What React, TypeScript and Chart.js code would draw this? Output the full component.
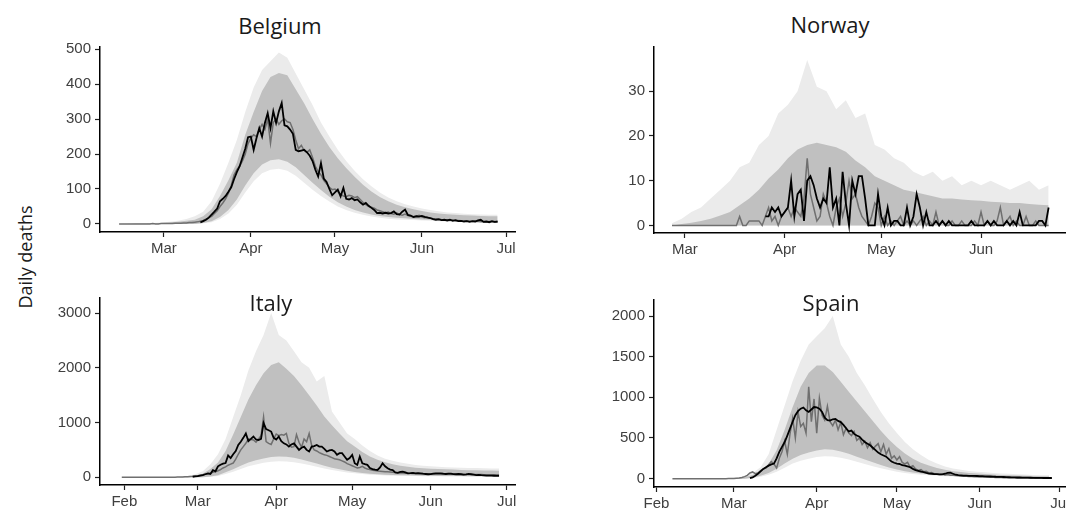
import React, { useEffect, useRef } from "react";
import { Chart, registerables } from "chart.js";
Chart.register(...registerables);

// ---- axis tick definitions (day of year 2020) ----
const MONTH_DAYS = [31, 60, 91, 121, 152, 182];
const MONTH_LABELS = ["Feb", "Mar", "Apr", "May", "Jun", "Jul"];
const BAND_STEP = 3;

// ---- Belgium ----
const belgiumSimStart = 44;
const belgiumSim = [
  0,0,0,0,0,0,0,0,0,0,0,0,1,0,0,1,1,1,1,
  1,2,2,2,3,3,4,
  4,5,6,8,10,14,18,22,30,38,
  50,60,72,88,110,140,155,165,180,200,
  230,245,255,250,270,285,270,300,231,290,
  300,285,295,300,292,290,270,240,215,225,
  210,205,212,190,165,150,140,125,115,105,
  98,100,92,85,80,78,82,80,75,78,
  70,62,55,50,48,45,40,38,35,32,
  34,30,28,32,27,25,28,24,22,20,
  22,25,20,18,20,16,15,14,15,12,
  11,12,10,11,9,10,9,8,9,8,
  7,8,7,6,7,6,7,6,5,6,
];
const belgiumObsStart = 73;
const belgiumObs = [
  4,8,12,18,27,35,44,
  65,72,80,92,105,128,148,165,190,215,
  248,250,212,245,274,250,289,317,274,322,
  289,322,346,282,279,270,258,212,208,210,
  212,205,195,180,155,136,174,130,120,100,
  82,90,98,79,103,72,70,74,68,70,
  62,55,60,52,46,40,31,32,30,32,
  30,31,36,28,27,35,41,26,24,20,
  22,21,23,20,18,17,14,12,13,11,
  12,10,12,9,11,8,9,7,8,6,
  8,7,10,12,6,7,5,8,6,7,
];
const belgiumBandStart = 44;
const belgiumOuterHigh = [
  0,1,1,2,3,4,6,9,14,22,
  35,65,115,175,240,320,390,440,465,490,
  475,430,385,340,290,250,212,180,152,128,
  108,90,76,65,56,50,44,40,36,33,
  31,29,28,27,26,26,
];
const belgiumInnerHigh = [
  0,0,1,1,2,3,4,6,9,12,
  22,42,80,125,175,255,320,380,420,432,
  425,385,345,300,258,220,188,160,135,112,
  93,77,65,55,48,42,37,33,30,28,
  26,25,24,23,22,22,
];
const belgiumInnerLow = [
  0,0,0,0,0,0,0,0,0,0,
  3,8,20,40,70,110,145,170,182,185,
  178,162,140,118,97,78,62,50,40,33,
  27,23,20,18,16,14,13,12,11,10,
  9,9,8,8,7,7,
];
const belgiumOuterLow = [
  0,0,0,0,0,0,0,0,0,0,
  2,5,14,30,55,90,122,145,155,158,
  152,138,118,98,80,64,50,40,32,26,
  21,18,15,13,12,11,10,9,8,7,
  7,6,6,5,5,5,
];

// ---- Norway ----
const norwaySimStart = 56;
const norwaySim = [
  0,0,0,0,
  0,0,0,0,0,0,0,0,0,0,
  0,0,0,0,0,0,0,2,0,0,
  1,1,1,1,0,2,4,1,2,0,
  2,3,4,2,4,3,2,6,15,7,
  4,1,2,7,5,2,0,4,6,2,
  5,10,6,7,4,2,1,0,2,5,
  4,0,2,0,1,0,1,2,0,1,
  0,1,0,1,2,0,1,0,3,0,
  1,0,0,1,0,0,1,0,0,0,
  1,0,3,0,1,0,0,1,4,0,
  1,2,0,1,0,0,2,0,0,1,
  0,0,0,0,
];
const norwayObsStart = 85;
const norwayObs = [
  2,2,4,3,4,
  2,3,4,10,2,7,8,1,10,11,
  9,6,4,6,5,13,4,6,0,12,
  5,0,10,7,11,11,6,0,0,0,
  7,2,0,4,0,1,1,0,0,4,
  0,2,7,4,0,3,0,0,1,0,
  1,0,1,0,0,0,0,0,0,1,
  0,0,0,0,1,0,1,0,0,0,
  1,0,1,0,3,0,0,0,0,0,
  1,1,0,4,
];
const norwayBandStart = 56;
const norwayOuterHigh = [
  0.5,1.5,3,4,6,8,10,13,14,18,
  20,25,27,30,37,31,30,26,28,24,
  25,18,17,15,14,12,11,12,10,11,
  9,10,9,10,9,8,9,10,8,9,
];
const norwayInnerHigh = [
  0,0.3,0.6,1,1.5,2.2,3,4.5,6,8,
  10.5,12.5,15,17,18,18.5,18,17.5,16.5,14.5,
  13,11,10,9,8,7.5,7,6.5,6,6,
  5.8,5.6,5.5,5.3,5.2,5,5,4.8,4.6,4.5,
];
const norwayInnerLow = [
  0,0,0,0,0,0,0,0,0,0,
  0,0,0,0,0,0,0,0,0,0,
  0,0,0,0,0,0,0,0,0,0,
  0,0,0,0,0,0,0,0,0,0,
];
const norwayOuterLow = [
  0,0,0,0,0,0,0,0,0,0,
  0,0,0,0,0,0,0,0,0,0,
  0,0,0,0,0,0,0,0,0,0,
  0,0,0,0,0,0,0,0,0,0,
];

// ---- Italy ----
const italySimStart = 30;
const italySim = [
  0,0,0,0,0,0,0,0,0,0,
  0,0,0,0,0,0,0,0,0,0,
  1,2,3,4,6,8,10,14,18,24,
  30,38,46,55,65,75,90,100,120,140,
  170,190,220,240,260,330,420,500,560,620,
  700,690,680,640,700,760,1100,650,620,600,
  700,790,760,780,770,800,620,550,560,780,
  640,550,700,650,800,580,500,480,450,430,
  410,400,380,360,340,330,320,300,280,250,
  230,210,190,170,180,200,170,150,140,130,
  125,115,110,105,100,100,95,90,85,82,
  80,78,75,73,72,70,70,68,66,65,
  63,62,60,60,59,58,58,57,57,56,
  56,55,55,54,54,53,53,52,52,51,
  50,50,49,48,48,47,46,46,45,45,
];
const italyObsStart = 58;
const italyObs = [
  10,15,
  20,30,40,55,70,60,130,110,200,230,
  250,260,400,350,420,480,590,650,720,800,
  660,700,745,690,680,700,990,880,860,835,
  720,690,745,660,620,600,560,600,620,560,
  500,540,560,500,470,560,570,590,560,560,
  520,470,490,500,470,410,440,440,380,320,
  350,410,256,226,380,256,240,226,170,150,
  140,134,180,256,200,165,140,130,90,80,
  100,104,90,73,75,80,70,75,73,65,
  60,55,58,65,73,70,73,65,60,67,
  65,58,55,60,55,48,52,61,55,48,
  40,43,38,35,30,30,32,28,25,25,
];
const italyBandStart = 29;
const italyOuterHigh = [
  0,0,0,0,1,1,2,4,10,25,
  55,110,240,420,700,1100,1500,1950,2300,2600,
  3000,2600,2500,2300,2100,2000,1750,1850,1200,1000,
  800,700,580,480,400,340,300,270,245,225,
  210,200,190,185,180,175,170,168,165,162,
  160,
];
const italyInnerHigh = [
  0,0,0,0,0,0,1,2,5,12,
  30,65,150,270,480,780,1100,1420,1680,1900,
  2050,2100,1980,1850,1680,1500,1310,1110,950,800,
  660,560,460,380,320,275,240,210,190,175,
  165,155,150,145,140,135,130,128,125,122,
  120,
];
const italyInnerLow = [
  0,0,0,0,0,0,0,0,0,0,
  0,0,15,35,90,145,210,270,310,345,
  370,380,375,355,325,290,250,210,175,145,
  118,98,80,66,56,48,43,39,35,32,
  29,27,25,24,23,22,21,21,20,20,
  20,
];
const italyOuterLow = [
  0,0,0,0,0,0,0,0,0,0,
  0,0,8,22,60,100,150,200,235,265,
  285,295,290,275,250,222,190,160,132,108,
  88,72,58,48,40,34,30,27,24,22,
  20,18,17,16,15,15,14,14,13,13,
  13,
];

// ---- Spain ----
const spainSimStart = 37;
const spainSim = [
  0,0,0,
  0,0,0,0,0,0,0,0,0,0,
  0,0,0,0,0,0,0,0,1,1,
  2,5,8,15,25,40,70,82,60,70,
  100,120,130,170,210,180,130,250,330,460,
  300,550,740,500,820,640,680,560,1130,700,
  980,560,990,780,720,890,700,650,720,600,
  690,540,620,560,530,580,470,500,420,460,
  380,440,360,400,430,330,420,300,370,250,
  280,230,270,200,180,200,140,160,120,100,
  110,85,90,70,75,60,55,50,55,45,
  50,42,40,38,35,33,30,28,27,25,
  24,22,21,20,19,18,17,16,15,14,
  13,12,12,11,10,10,9,9,8,8,
  7,7,7,6,6,6,5,5,5,5,
];
const spainObsStart = 66;
const spainObs = [
  5,15,35,60,
  90,120,140,160,175,185,250,330,390,450,
  530,615,700,780,830,860,875,840,820,850,
  880,875,860,820,750,720,715,730,735,710,
  695,660,620,580,590,550,530,515,480,450,
  430,410,380,350,320,300,285,270,240,210,
  195,185,180,165,160,150,140,120,105,95,
  85,80,70,62,60,55,55,52,53,60,
  70,72,60,48,42,40,38,37,35,34,
  33,32,30,30,28,27,26,25,23,22,
  21,20,18,17,16,15,14,14,13,12,
  12,11,10,10,9,9,8,8,8,8,
];
const spainBandStart = 37;
const spainOuterHigh = [
  0,0,0,0,1,2,4,8,15,30,
  70,140,300,600,900,1200,1450,1650,1750,1850,
  2000,1650,1500,1300,1150,980,820,680,560,450,
  360,290,230,185,150,125,108,95,85,77,
  70,64,59,54,50,46,43,40,
];
const spainInnerHigh = [
  0,0,0,0,1,1,2,4,8,16,
  45,85,180,350,600,880,1130,1300,1390,1390,
  1310,1190,1070,950,830,710,590,480,390,310,
  245,195,160,130,108,92,80,70,62,56,
  50,46,42,38,35,32,29,27,
];
const spainInnerLow = [
  0,0,0,0,0,0,0,0,0,0,
  10,35,70,120,185,245,290,320,345,360,
  355,335,305,270,235,200,168,138,112,92,
  76,63,53,45,39,34,30,26,22,19,
  17,15,13,12,11,10,9,8,
];
const spainOuterLow = [
  0,0,0,0,0,0,0,0,0,0,
  5,22,48,85,135,185,220,245,265,275,
  272,258,235,208,180,153,128,105,85,70,
  58,48,40,34,29,25,22,19,16,14,
  12,11,10,9,8,7,6,6,
];

type Panel = {
  name: string;
  titleX: number; titleY: number;
  box: { left: number; top: number; width: number; height: number };
  area: { l: number; t: number; r: number; b: number };
  xMin: number; xMax: number; yMin: number; yMax: number;
  xTicks: number[]; yTicks: number[];
  simStart: number; sim: number[];
  obsStart: number; obs: number[];
  bandStart: number;
  outerHigh: number[]; innerHigh: number[]; innerLow: number[]; outerLow: number[];
};

const panels: Panel[] = [
  {
    name: "Belgium", titleX: 280, titleY: 25,
    box: { left: 40, top: 40, width: 500, height: 228 },
    area: { l: 100, t: 47, r: 515, b: 232 },
    xMin: 37.2, xMax: 185.2, yMin: -23, yMax: 506,
    xTicks: [60, 91, 121, 152, 182], yTicks: [0, 100, 200, 300, 400, 500],
    simStart: belgiumSimStart, sim: belgiumSim, obsStart: belgiumObsStart, obs: belgiumObs,
    bandStart: belgiumBandStart, outerHigh: belgiumOuterHigh, innerHigh: belgiumInnerHigh,
    innerLow: belgiumInnerLow, outerLow: belgiumOuterLow,
  },
  {
    name: "Norway", titleX: 830, titleY: 24,
    box: { left: 600, top: 40, width: 466, height: 228 },
    area: { l: 654, t: 47, r: 1066, b: 233 },
    xMin: 50.4, xMax: 178.4, yMin: -1.7, yMax: 39.9,
    xTicks: [60, 91, 121, 152], yTicks: [0, 10, 20, 30],
    simStart: norwaySimStart, sim: norwaySim, obsStart: norwayObsStart, obs: norwayObs,
    bandStart: norwayBandStart, outerHigh: norwayOuterHigh, innerHigh: norwayInnerHigh,
    innerLow: norwayInnerLow, outerLow: norwayOuterLow,
  },
  {
    name: "Italy", titleX: 271, titleY: 302,
    box: { left: 40, top: 290, width: 500, height: 220 },
    area: { l: 100, t: 298, r: 515, b: 485 },
    xMin: 21.4, xMax: 185.3, yMin: -141, yMax: 3274,
    xTicks: [31, 60, 91, 121, 152, 182], yTicks: [0, 1000, 2000, 3000],
    simStart: italySimStart, sim: italySim, obsStart: italyObsStart, obs: italyObs,
    bandStart: italyBandStart, outerHigh: italyOuterHigh, innerHigh: italyInnerHigh,
    innerLow: italyInnerLow, outerLow: italyOuterLow,
  },
  {
    name: "Spain", titleX: 831, titleY: 302,
    box: { left: 600, top: 290, width: 466, height: 220 },
    area: { l: 654, t: 300, r: 1066, b: 487 },
    xMin: 30.1, xMax: 184.3, yMin: -103, yMax: 2197,
    xTicks: [31, 60, 91, 121, 152, 182], yTicks: [0, 500, 1000, 1500, 2000],
    simStart: spainSimStart, sim: spainSim, obsStart: spainObsStart, obs: spainObs,
    bandStart: spainBandStart, outerHigh: spainOuterHigh, innerHigh: spainInnerHigh,
    innerLow: spainInnerLow, outerLow: spainOuterLow,
  },
];

const TICK_FONT = { family: "'Liberation Sans', Arial, sans-serif", size: 15 };
const TICK_COLOR = "#404040";

function PanelChart({ p }: { p: Panel }) {
  const ref = useRef<HTMLCanvasElement>(null);
  useEffect(() => {
    const toPts = (start: number, arr: number[], step = 1) =>
      arr.map((y, i) => ({ x: start + i * step, y }));
    const yW = p.area.l - p.box.left;
    const xH = p.box.top + p.box.height - p.area.b;
    const bandLine = {
      borderWidth: 0,
      borderColor: "rgba(0,0,0,0)",
      pointRadius: 0,
      tension: 0,
    };
    const chart = new Chart(ref.current as HTMLCanvasElement, {
      type: "line",
      data: {
        datasets: [
          { label: "Observed", data: toPts(p.obsStart, p.obs), borderColor: "#000000", borderWidth: 1.8, pointRadius: 0, fill: false, tension: 0 },
          { label: "Simulated", data: toPts(p.simStart, p.sim), borderColor: "#6f6f6f", borderWidth: 1.5, pointRadius: 0, fill: false, tension: 0 },
          { label: "Inner high", data: toPts(p.bandStart, p.innerHigh, BAND_STEP), backgroundColor: "#c0c0c0", fill: "+1", ...bandLine },
          { label: "Inner low", data: toPts(p.bandStart, p.innerLow, BAND_STEP), fill: false, ...bandLine },
          { label: "Outer high", data: toPts(p.bandStart, p.outerHigh, BAND_STEP), backgroundColor: "#ebebeb", fill: "+1", ...bandLine },
          { label: "Outer low", data: toPts(p.bandStart, p.outerLow, BAND_STEP), fill: false, ...bandLine },
        ] as any,
      },
      options: {
        animation: false,
        responsive: false,
        devicePixelRatio: 1,
        events: [],
        layout: {
          padding: {
            top: p.area.t - p.box.top,
            right: p.box.left + p.box.width - p.area.r,
            left: 0,
            bottom: 0,
          },
        },
        plugins: { legend: { display: false }, tooltip: { enabled: false }, title: { display: false } },
        scales: {
          x: {
            type: "linear",
            min: p.xMin,
            max: p.xMax,
            bounds: "data",
            afterBuildTicks: (s: any) => { s.ticks = p.xTicks.map((v) => ({ value: v })); },
            afterFit: (s: any) => { s.height = xH; s.paddingLeft = 0; s.paddingRight = 0; },
            ticks: {
              autoSkip: false,
              maxRotation: 0,
              minRotation: 0,
              padding: 3,
              color: TICK_COLOR,
              font: TICK_FONT,
              callback: (v: any) => MONTH_LABELS[MONTH_DAYS.indexOf(Number(v))] ?? "",
            },
            grid: { drawOnChartArea: false, drawTicks: true, tickLength: 5, tickColor: "#222", tickWidth: 1.2 },
            border: { display: true, color: "#000", width: 1.5 },
          },
          y: {
            type: "linear",
            min: p.yMin,
            max: p.yMax,
            bounds: "data",
            afterBuildTicks: (s: any) => { s.ticks = p.yTicks.map((v) => ({ value: v })); },
            afterFit: (s: any) => { s.width = yW; s.paddingTop = 0; s.paddingBottom = 0; },
            ticks: {
              autoSkip: false,
              padding: 4,
              color: TICK_COLOR,
              font: TICK_FONT,
              callback: (v: any) => String(v),
            },
            grid: { drawOnChartArea: false, drawTicks: true, tickLength: 5, tickColor: "#222", tickWidth: 1.2 },
            border: { display: true, color: "#000", width: 1.5 },
          },
        },
      } as any,
    });
    return () => chart.destroy();
  }, [p]);
  return (
    <canvas
      ref={ref}
      width={p.box.width}
      height={p.box.height}
      style={{ position: "absolute", left: p.box.left, top: p.box.top, width: p.box.width, height: p.box.height }}
    />
  );
}

export default function App() {
  return (
    <div style={{ position: "fixed", left: 0, top: 0, width: 1086, height: 510, background: "#fff", overflow: "hidden" }}>
      {panels.map((p) => (
        <PanelChart key={p.name} p={p} />
      ))}
      {panels.map((p) => (
        <div
          key={p.name + "-t"}
          style={{
            position: "absolute",
            left: p.titleX,
            top: p.titleY,
            transform: "translate(-50%, -50%)",
            fontFamily: "'Open Sans', sans-serif",
            fontSize: 22,
            color: "#1a1a1a",
            whiteSpace: "nowrap",
            lineHeight: 1,
          }}
        >
          {p.name}
        </div>
      ))}
      <div
        style={{
          position: "absolute",
          left: 25,
          top: 257,
          transform: "translate(-50%, -50%) rotate(-90deg)",
          fontFamily: "'Open Sans', sans-serif",
          fontSize: 18,
          color: "#1a1a1a",
          whiteSpace: "nowrap",
          lineHeight: 1,
        }}
      >
        Daily deaths
      </div>
    </div>
  );
}
